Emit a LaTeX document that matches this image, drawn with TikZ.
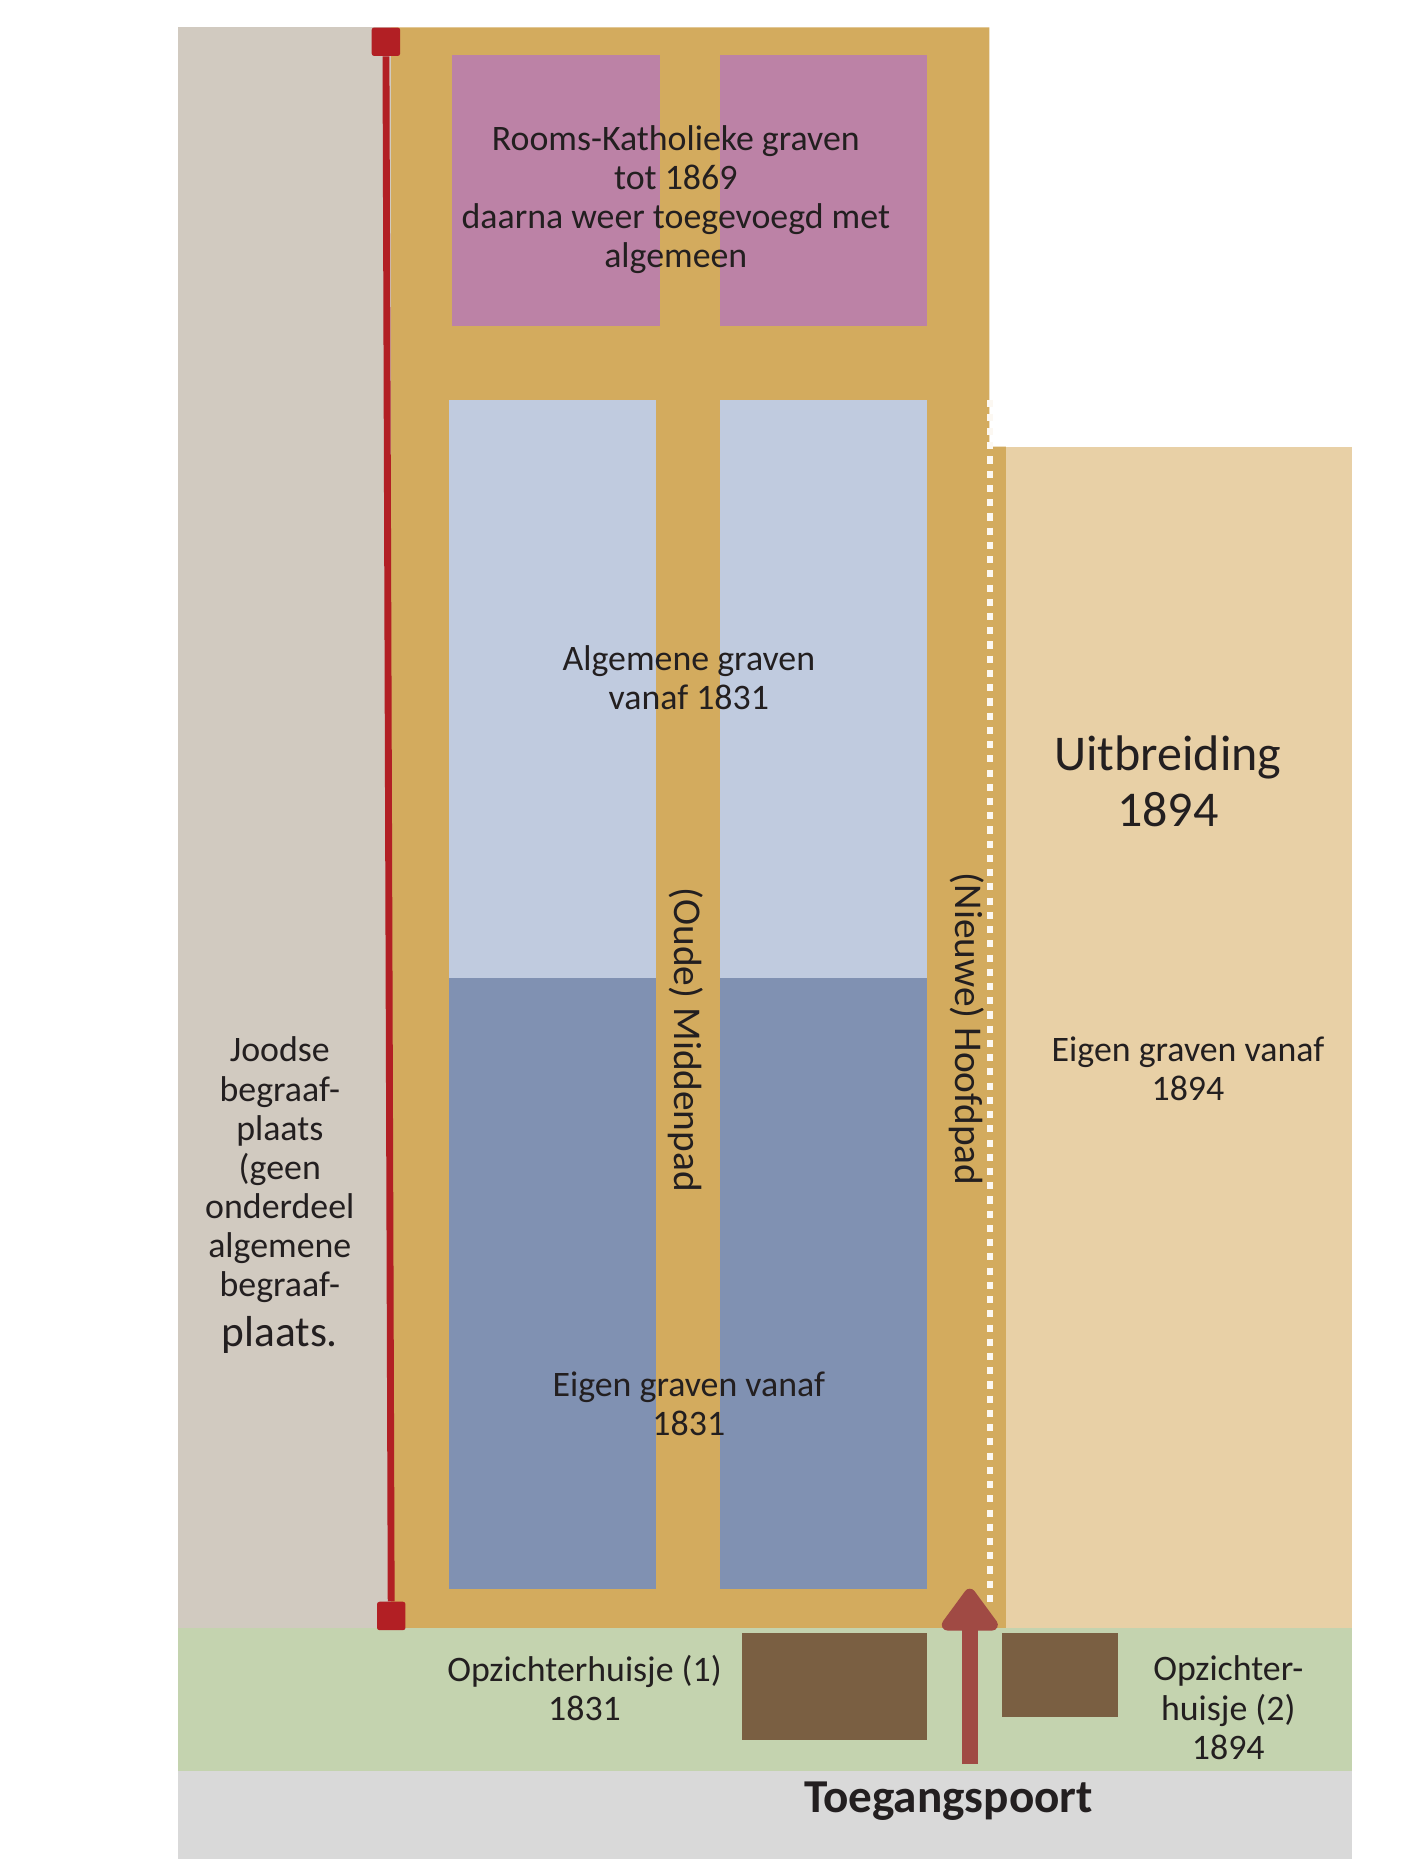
\documentclass[tikz,border=0pt]{standalone}
\usepackage{fontspec}
\setmainfont{Carlito}
\usetikzlibrary{arrows.meta}
\definecolor{joods}{HTML}{D1CAC0}
\definecolor{pad}{HTML}{D3AB5E}
\definecolor{uitbr}{HTML}{E8D0A6}
\definecolor{gras}{HTML}{C4D3AF}
\definecolor{straat}{HTML}{D9D9D9}
\definecolor{rk}{HTML}{BC82A6}
\definecolor{algemeen}{HTML}{C0CBDF}
\definecolor{eigen}{HTML}{8091B2}
\definecolor{huisje}{HTML}{7A5F42}
\definecolor{grensrood}{HTML}{B21F24}
\definecolor{poort}{HTML}{A04A44}
\definecolor{inkt}{HTML}{231F20}
\tikzset{
  lbl/.style={align=center, inner sep=0pt, text=inkt, font=\fontsize{21.5}{23.5}\selectfont},
  padlbl/.style={lbl, rotate=-90, font=\fontsize{23.6}{26}\selectfont},
  kap/.style={fill=grensrood, rounded corners=1.5pt, minimum size=0.6cm, inner sep=0pt},
  redline/.style={draw=grensrood, line width=0.145cm},
  grens/.style={draw=white!85!uitbr, line width=0.125cm, dash pattern=on 0.15cm off 0.15cm},
  poortpijl/.style={draw=poort, line width=0.35cm, -{Triangle[width=1.35cm, length=0.975cm, round]}}
}

\begin{document}
\begin{tikzpicture}[x=0.025cm,y=-0.025cm]
\useasboundingbox (0,0) rectangle (1193,1568);
% ondergrond
\fill[joods] (150,23) rectangle (330,1373);
\fill[pad] (330,23) -- (834.5,23) -- (834.5,376.7) -- (848.5,376.7) -- (848.5,1373) -- (330,1373) -- cycle;
\fill[uitbr] (848.5,376.7) rectangle (1140,1373);
\fill[gras] (150,1373) rectangle (1140,1494);
\fill[straat] (150,1494) rectangle (1140,1568);

% vakken
\fill[rk] (381.6,46.4) rectangle (556.5,275);
\fill[rk] (607.3,46.4) rectangle (781.6,275);
\fill[algemeen] (378.7,337.4) rectangle (553.3,825);
\fill[algemeen] (607.5,337.4) rectangle (782,825);
\fill[eigen] (378.7,825) rectangle (553.3,1340);
\fill[eigen] (607.5,825) rectangle (782,1340);

% huisjes
\fill[huisje] (626,1377) rectangle (781.6,1467.6);
\fill[huisje] (845,1377) rectangle (942.7,1448);

% grens uitbreiding
\coordinate (grensTop) at (835,337);
\coordinate (grensBot) at (835,1352);
\draw[grens] (grensTop) -- (grensBot);

% grens joodse begraafplaats
\node[kap] (kapTop) at (325.5,35.2) {};
\node[kap] (kapBot) at (330,1363) {};
\draw[redline] (kapTop) -- (kapBot);

% toegang
\coordinate (poortIn) at (818,1488);
\coordinate (poortTip) at (818,1340);
\draw[poortpijl] (poortIn) -- (poortTip);

% teksten
\node[lbl] (rkTxt) at (570,168.5) {Rooms-Katholieke graven\\tot 1869\\daarna weer toegevoegd met\\algemeen};
\node[lbl] (algTxt) at (581,571.5) {Algemene graven\\vanaf 1831};
\node[lbl] (eigTxt) at (581,1184) {Eigen graven vanaf\\1831};
\node[lbl] (uitTxt) at (1002,901.5) {Eigen graven vanaf\\1894};
\node[lbl, font=\fontsize{30}{34}\selectfont] (uitKop) at (985,659) {Uitbreiding\\1894};
\node[lbl] (joodsTxt) at (236,1008) {Joodse\\begraaf-\\plaats\\(geen\\onderdeel\\algemene\\begraaf-\\[6pt]{\fontsize{26}{30}\selectfont plaats.}};
\node[padlbl] (middenpad) at (578,877) {(Oude) Middenpad};
\node[padlbl] (hoofdpad) at (815,868) {(Nieuwe) Hoofdpad};
\node[lbl] (huis1) at (493,1423.5) {Opzichterhuisje (1)\\1831};
\node[lbl] (huis2) at (1036,1440.5) {Opzichter-\\huisje (2)\\1894};
\node[lbl, font=\bfseries\fontsize{28.3}{32}\selectfont] (poortTxt) at (800,1519) {Toegangspoort};
\end{tikzpicture}
\end{document}
